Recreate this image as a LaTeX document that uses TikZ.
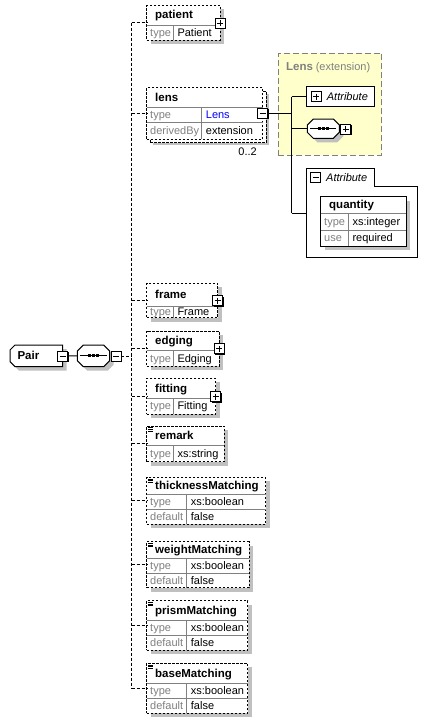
\documentclass[tikz,border=0pt]{standalone}
\usepackage{fontspec}
\setmainfont{Liberation Sans}
\usetikzlibrary{calc}
\definecolor{shadowc}{RGB}{192,192,192}
\definecolor{gridc}{RGB}{128,128,128}
\definecolor{labelc}{RGB}{128,128,128}
\definecolor{extfill}{RGB}{255,255,204}
\definecolor{lensblue}{RGB}{0,0,255}
\tikzset{
  boxnode/.style={draw=black, fill=white, line width=1pt, rectangle, inner sep=0pt, outer sep=0pt},
  optdash/.style={dash pattern=on 2.5pt off 1.5pt},
  conn/.style={line width=1pt, dash pattern=on 3pt off 2pt},
  solidconn/.style={line width=1pt},
  gridline/.style={draw=gridc, line width=0.9pt},
  lbl/.style={inner sep=0pt, anchor=base west, text=labelc, font=\fontsize{11}{13}\selectfont},
  val/.style={inner sep=0pt, anchor=base west, font=\fontsize{11}{13}\selectfont},
  ttl/.style={inner sep=0pt, anchor=base west, font=\fontsize{11.5}{13}\selectfont\bfseries},
  ital/.style={inner sep=0pt, anchor=base west, font=\fontsize{11}{13}\selectfont\itshape},
  anchorbox/.style={rectangle, inner sep=0pt, outer sep=0pt},
}
% element box: [style] name x1 y1 x2 y2
\newcommand\ebox[6][optdash]{%
  \fill[shadowc] ({#3+4},{#4+4}) rectangle ({#5+4},{#6+4});
  \node[boxnode,#1,minimum width={(#5-#3)*1pt},minimum height={(#6-#4)*1pt}] (#2) at ({(#3+#5)/2},{(#4+#6)/2}) {};
}
% header: name x1 y1 x2 ydiv text
\newcommand\ehead[6]{%
  \draw[gridline] (#2,#5) -- (#4,#5);
  \node[ttl] (#1-t) at ({#2+8.3},{(#3+#5)/2+3.8}) {#6};
}
% row: name x1 cell x2 ytop ybot label value
\newcommand\erow[8]{%
  \draw[gridline] (#2,#5) -- (#4,#5);
  \draw[gridline] (#3,#5) -- (#3,#6);
  \node[lbl] (#1-l) at ({#2+3.3},{(#5+#6)/2+3.8}) {#7};
  \node[val] (#1-v) at ({#3+4},{(#5+#6)/2+3.8}) {#8};
}
% plus / minus box: name cx cy plus(1/0) shadow(1/0)
\newcommand\sgnbox[5]{%
  \ifnum#5=1 \fill[black] ({#2-4},{#3-4}) rectangle ({#2+6},{#3+6});\fi
  \node[draw=black, fill=white, line width=1pt, minimum size=10pt, inner sep=0pt, outer sep=0pt] (#1) at (#2,#3) {};
  \draw[line width=1pt] ({#2-3},#3) -- ({#2+3},#3);
  \ifnum#4=1 \draw[line width=1pt] (#2,{#3-3}) -- (#2,{#3+3});\fi
}
% sequence compositor: name x1 y1 x2 y2
\newcommand\octshape[5]{%
  \fill[shadowc] ({#2+10},{#3+4}) -- ({#4-2},{#3+4}) -- ({#4+4},{#3+10}) -- ({#4+4},{#5-2}) -- ({#4-2},{#5+4}) -- ({#2+10},{#5+4}) -- ({#2+4},{#5-2}) -- ({#2+4},{#3+10}) -- cycle;
  \node[anchorbox,minimum width={(#4-#2)*1pt},minimum height={(#5-#3)*1pt}] (#1) at ({(#2+#4)/2},{(#3+#5)/2}) {};
  \draw[fill=white, line width=1pt] ({#2+6},#3) -- ({#4-6},#3) -- (#4,{#3+6}) -- (#4,{#5-6}) -- ({#4-6},#5) -- ({#2+6},#5) -- (#2,{#5-6}) -- (#2,{#3+6}) -- cycle;
  \draw[line width=1pt] ({#2+3},{(#3+#5)/2}) -- ({#4-3},{(#3+#5)/2});
  \fill ({(#2+#4)/2-5.5},{(#3+#5)/2-1.5}) rectangle ++(3,3);
  \fill ({(#2+#4)/2-1.5},{(#3+#5)/2-1.5}) rectangle ++(3,3);
  \fill ({(#2+#4)/2+2.5},{(#3+#5)/2-1.5}) rectangle ++(3,3);
}
% simple type icon: x1 y1
\newcommand\sicon[2]{%
  \draw[line width=0.7pt] ({#1+1.5},{#2+1.8}) -- ++(4.5,0) ({#1+1.5},{#2+3.4}) -- ++(4.5,0) ({#1+1.5},{#2+5}) -- ++(4.5,0);
}
\begin{document}
\begin{tikzpicture}[x=1pt,y=-1pt]
\useasboundingbox[fill=white] (0,0) rectangle (442,723);

% ---------- Pair ----------
\fill[shadowc] (19,349) -- (66.7,349) -- (66.7,370.7) -- (19,370.7) -- (14,365.7) -- (14,354) -- cycle;
\node[anchorbox,minimum width=52.7pt,minimum height=21.7pt] (pair) at (36.35,355.85) {};
\draw[fill=white,line width=1pt] (15,345) -- (62.7,345) -- (62.7,366.7) -- (15,366.7) -- (10,361.7) -- (10,350) -- cycle;
\node[ttl] (pair-t) at (17.3,359.8) {Pair};
\sgnbox{pairmin}{62.8}{356}{0}{1}

\octshape{seq}{77.3}{345}{109.7}{366.7}
\sgnbox{seqmin}{116.2}{356}{0}{1}
\draw[solidconn] (pairmin.east) -- (seq.west);

% ---------- elements ----------
% patient
\ebox{patient}{146.7}{5.3}{220}{40}
\ehead{patient}{146.7}{5.3}{220}{25}{patient}
\erow{patient-r1}{146.7}{173.3}{220}{25}{40}{type}{Patient}
\sgnbox{patientpl}{220}{23}{1}{1}

% lens (double box)
\fill[shadowc] (153.2,94.2) rectangle (269.3,145);
\node[boxnode,optdash,minimum width=116pt,minimum height=51.6pt] (lensback) at (208.2,117) {};
\node[boxnode,optdash,minimum width=116pt,minimum height=51.6pt] (lens) at (204.7,113.5) {};
\ehead{lens}{146.7}{87.7}{262.7}{107}{lens}
\erow{lens-r1}{146.7}{201.7}{262.7}{107}{122.7}{type}{\textcolor{lensblue}{Lens}}
\erow{lens-r2}{146.7}{201.7}{262.7}{122.7}{139.3}{derivedBy}{extension}
\sgnbox{lensmin}{262.7}{113}{0}{1}
\node[val, anchor=base east] (occ) at (257,155) {0..2};

% frame
\ebox{frame}{146.7}{283.3}{217.7}{317.7}
\ehead{frame}{146.7}{283.3}{217.7}{306}{frame}
\erow{frame-r1}{146.7}{173.3}{217.7}{306}{317.7}{type}{Frame}
\sgnbox{framepl}{217.7}{300.8}{1}{1}

% edging
\ebox{edging}{146.7}{331}{219.3}{366}
\ehead{edging}{146.7}{331}{219.3}{350.7}{edging}
\erow{edging-r1}{146.7}{173.3}{219.3}{350.7}{366}{type}{Edging}
\sgnbox{edgingpl}{219.3}{348.5}{1}{1}

% fitting
\ebox{fitting}{146.7}{378.3}{215.7}{414}
\ehead{fitting}{146.7}{378.3}{215.7}{398.3}{fitting}
\erow{fitting-r1}{146.7}{173.3}{215.7}{398.3}{414}{type}{Fitting}
\sgnbox{fittingpl}{215.7}{396.5}{1}{1}

% remark
\ebox{remark}{146.7}{426}{224.3}{461.7}
\ehead{remark}{146.7}{426}{224.3}{445}{remark}
\erow{remark-r1}{146.7}{173.3}{224.3}{445}{461.7}{type}{xs:string}
\sicon{146.7}{426}

% thicknessMatching
\ebox{thick}{146.7}{477.3}{265.7}{524}
\ehead{thick}{146.7}{477.3}{265.7}{494.3}{thicknessMatching}
\erow{thick-r1}{146.7}{186.7}{265.7}{494.3}{509.3}{type}{xs:boolean}
\erow{thick-r2}{146.7}{186.7}{265.7}{509.3}{524}{default}{false}
\sicon{146.7}{477.3}

% weightMatching
\ebox{weight}{146.7}{541.7}{249}{587.7}
\ehead{weight}{146.7}{541.7}{249}{558.3}{weightMatching}
\erow{weight-r1}{146.7}{186.7}{249}{558.3}{573.3}{type}{xs:boolean}
\erow{weight-r2}{146.7}{186.7}{249}{573.3}{587.7}{default}{false}
\sicon{146.7}{541.7}

% prismMatching
\ebox{prism}{146.7}{600.7}{247.7}{650}
\ehead{prism}{146.7}{600.7}{247.7}{620}{prismMatching}
\erow{prism-r1}{146.7}{186.7}{247.7}{620}{635}{type}{xs:boolean}
\erow{prism-r2}{146.7}{186.7}{247.7}{635}{650}{default}{false}
\sicon{146.7}{600.7}

% baseMatching
\ebox{base}{146.7}{663.3}{247.7}{713.3}
\ehead{base}{146.7}{663.3}{247.7}{683.3}{baseMatching}
\erow{base-r1}{146.7}{186.7}{247.7}{683.3}{698.3}{type}{xs:boolean}
\erow{base-r2}{146.7}{186.7}{247.7}{698.3}{713.3}{default}{false}
\sicon{146.7}{663.3}

% ---------- main connectors ----------
\coordinate (bus) at (131.5,356);
\draw[conn] (seqmin.east) -- (bus);
\draw[conn] (bus |- patient.west) -- (bus |- base.west);
\foreach \n in {patient,lens,frame,edging,fitting,remark,thick,weight,prism,base}
  \draw[conn] (bus |- \n.west) -- (\n.west);

% ---------- Lens extension ----------
\node[draw=gridc, fill=extfill, dash pattern=on 6pt off 3pt, line width=1pt, inner sep=0pt, minimum width=103.4pt, minimum height=101.7pt] (ext) at (330,104.15) {};
\node[inner sep=0pt, anchor=base west, text=labelc] (ext-t) at (286,70.5) {{\fontsize{11.5}{13}\selectfont\bfseries Lens} {\fontsize{11}{13}\selectfont(extension)}};

\node[boxnode, minimum width=68.3pt, minimum height=20pt] (attr) at (340.15,96.7) {};
\sgnbox{attrpl}{316.2}{96.7}{1}{0}
\node[ital] (attr-t) at (326.7,100.5) {Attribute};

\octshape{extseq}{307.3}{119}{339.3}{138.3}
\sgnbox{extseqpl}{345.7}{129}{1}{1}

\node[anchorbox, minimum width=111pt, minimum height=89.4pt] (attrgrp) at (362.2,213) {};
\draw[fill=white,line width=1pt] (306.7,168.3) -- (374.3,168.3) -- (374.3,186) -- (417.7,186) -- (417.7,257.7) -- (306.7,257.7) -- cycle;
\sgnbox{attrgrpmin}{315.7}{177.7}{0}{0}
\node[ital] (attrgrp-t) at (326,181.5) {Attribute};

\ebox[solid]{quantity}{320.7}{196.7}{406}{246}
\ehead{quantity}{320.7}{196.7}{406}{213.3}{quantity}
\erow{quantity-r1}{320.7}{348.3}{406}{213.3}{230}{type}{xs:integer}
\erow{quantity-r2}{320.7}{348.3}{406}{230}{246}{use}{required}

\coordinate (ebus) at (291.7,113);
\draw[solidconn] (lensmin.east) -- (ebus);
\draw[solidconn] (ebus |- attr.west) -- (ebus |- attrgrp.west);
\draw[solidconn] (ebus |- attr.west) -- (attr.west);
\draw[solidconn] (ebus |- extseq.west) -- (extseq.west);
\draw[solidconn] (ebus |- attrgrp.west) -- (attrgrp.west);
\end{tikzpicture}
\end{document}
